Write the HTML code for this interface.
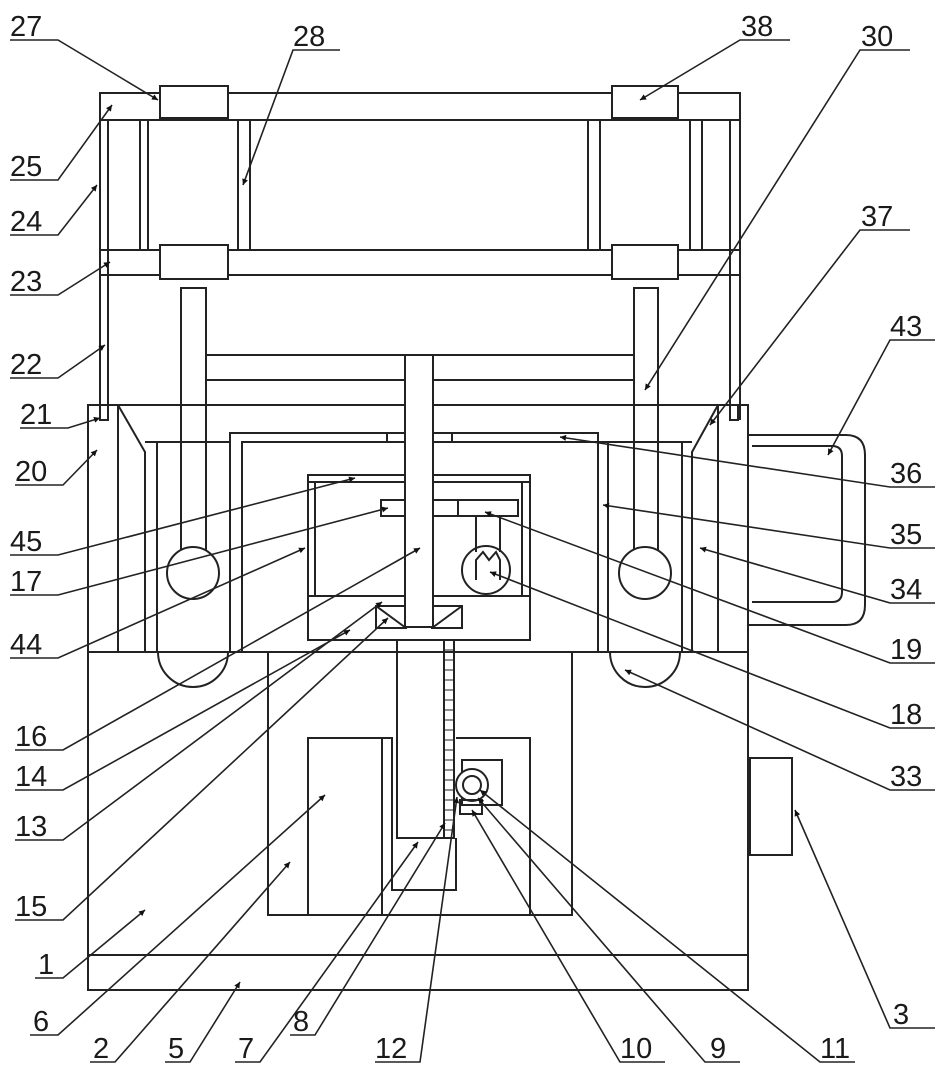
<!DOCTYPE html>
<html><head><meta charset="utf-8"><style>
html,body{margin:0;padding:0;background:#fff}
svg{display:block}
text{font-family:"Liberation Sans",sans-serif;font-size:29px;fill:#1a1a1a}
</style></head><body>
<svg width="942" height="1073" viewBox="0 0 942 1073" xmlns="http://www.w3.org/2000/svg">
<defs><marker id="a" viewBox="0 0 10 10" refX="10" refY="5" markerWidth="9" markerHeight="6" orient="auto" markerUnits="userSpaceOnUse"><path d="M0,0L10,5L0,10z" fill="#111"/></marker></defs>
<g fill="none" stroke="#222" stroke-width="2">
<!-- top frame -->
<rect x="100" y="93" width="640" height="27"/>
<rect x="160" y="86" width="68" height="32" fill="#fff"/>
<rect x="612" y="86" width="66" height="32" fill="#fff"/>
<line x1="100" y1="120" x2="100" y2="420"/><line x1="108" y1="120" x2="108" y2="420"/>
<line x1="140" y1="120" x2="140" y2="250"/><line x1="148" y1="120" x2="148" y2="250"/>
<line x1="238" y1="120" x2="238" y2="250"/><line x1="250" y1="120" x2="250" y2="250"/>
<line x1="588" y1="120" x2="588" y2="250"/><line x1="600" y1="120" x2="600" y2="250"/>
<line x1="690" y1="120" x2="690" y2="250"/><line x1="702" y1="120" x2="702" y2="250"/>
<line x1="730" y1="120" x2="730" y2="420"/><line x1="740" y1="120" x2="740" y2="420"/>
<rect x="100" y="250" width="640" height="25"/>
<rect x="160" y="245" width="68" height="34" fill="#fff"/>
<rect x="612" y="245" width="66" height="34" fill="#fff"/>
<rect x="100" y="405" width="8" height="15"/><rect x="730" y="405" width="8" height="15"/>
<!-- rods -->
<rect x="181" y="288" width="25" height="262"/>
<rect x="634" y="288" width="24" height="262"/>
<line x1="207" y1="355" x2="633" y2="355"/><line x1="207" y1="380" x2="633" y2="380"/>
<!-- upper body -->
<rect x="88" y="405" width="660" height="247"/>
<line x1="118" y1="405" x2="118" y2="652"/>
<polyline points="118,405 145,452 145,652"/>
<line x1="157" y1="442" x2="157" y2="652"/>
<line x1="145" y1="442" x2="230" y2="442"/>
<polyline points="718,405 692,452 692,652"/>
<line x1="718" y1="405" x2="718" y2="652"/>
<line x1="682" y1="442" x2="682" y2="652"/>
<line x1="608" y1="442" x2="692" y2="442"/>
<polyline points="230,652 230,433 598,433 598,652"/>
<polyline points="242,652 242,442 608,442 608,652"/>
<line x1="387" y1="433" x2="387" y2="442"/><line x1="452" y1="433" x2="452" y2="442"/>
<!-- inner box -->
<rect x="308" y="475" width="222" height="165"/>
<line x1="308" y1="482" x2="530" y2="482"/>
<line x1="315" y1="482" x2="315" y2="596"/><line x1="522" y1="482" x2="522" y2="596"/>
<line x1="308" y1="596" x2="405" y2="596"/><line x1="432" y1="596" x2="530" y2="596"/>
<rect x="381" y="500" width="137" height="16"/><line x1="458" y1="500" x2="458" y2="516"/>
<line x1="476" y1="516" x2="476" y2="552"/><line x1="500" y1="516" x2="500" y2="552"/>
<circle cx="486" cy="570" r="24"/>
<polyline points="476,580 476,560 483,552 489,560 496,552 500,560 500,580"/>
<circle cx="193" cy="573" r="26" fill="#fff"/>
<circle cx="645" cy="573" r="26" fill="#fff"/>
<rect x="376" y="606" width="30" height="22"/><line x1="376" y1="606" x2="406" y2="628"/>
<rect x="432" y="606" width="30" height="22"/><line x1="462" y1="606" x2="432" y2="628"/>
<rect x="405" y="355" width="28" height="272" fill="#fff"/>
<!-- base -->
<rect x="88" y="652" width="660" height="338"/>
<line x1="88" y1="955" x2="748" y2="955"/>
<path d="M158,652 A35,35 0 0 0 228,652"/>
<path d="M610,652 A35,35 0 0 0 680,652"/>
<rect x="268" y="652" width="304" height="263"/>
<rect x="308" y="738" width="74" height="177"/>
<polyline points="382,738 392,738 392,890 456,890 456,838"/>
<polyline points="456,738 530,738 530,915"/>
<rect x="397" y="640" width="47" height="198"/>
<rect x="444" y="640" width="10" height="198"/>
<g stroke-width="1"><path d="M444,650H454M444,660H454M444,670H454M444,680H454M444,690H454M444,700H454M444,710H454M444,720H454M444,730H454M444,740H454M444,750H454M444,760H454M444,770H454M444,780H454M444,790H454M444,800H454M444,810H454M444,820H454M444,830H454"/></g>
<rect x="462" y="760" width="40" height="45"/>
<circle cx="472" cy="785" r="16" fill="#fff"/><circle cx="472" cy="785" r="9"/>
<rect x="460" y="800" width="22" height="14"/>
<rect x="750" y="758" width="42" height="97"/>
<!-- box 43 -->
<path d="M748,435H846Q865,435 865,455V605Q865,625 846,625H748"/>
<path d="M752,446H832Q842,446 842,456V592Q842,602 832,602H752"/>
</g>
<!-- leaders -->
<g stroke="#222" stroke-width="1.6" fill="none" marker-end="url(#a)">
<path d="M10,40H58L158,100"/><path d="M340,50H293L243,185"/><path d="M790,40H740L640,100"/>
<path d="M910,50H860L645,390"/><path d="M910,230H860L710,425"/><path d="M935,340H890L828,455"/>
<path d="M10,180H58L112,105"/><path d="M10,235H58L97,185"/><path d="M10,295H58L110,262"/>
<path d="M10,378H58L105,345"/><path d="M20,428H68L100,418"/><path d="M15,485H63L97,450"/>
<path d="M935,487H890L560,437"/><path d="M935,548H890L603,505"/><path d="M935,603H890L700,548"/>
<path d="M935,663H890L485,512"/><path d="M935,728H890L490,572"/><path d="M935,790H890L625,670"/>
<path d="M935,1028H890L795,810"/>
<path d="M10,555H58L355,478"/><path d="M10,595H58L388,508"/><path d="M10,658H58L305,548"/>
<path d="M15,750H63L420,548"/><path d="M15,790H63L350,630"/><path d="M15,840H63L382,602"/>
<path d="M15,920H63L388,618"/><path d="M35,978H63L145,910"/><path d="M30,1035H58L325,795"/>
<path d="M90,1062H115L290,862"/><path d="M165,1062H190L240,982"/><path d="M235,1062H260L418,842"/>
<path d="M290,1035H315L445,823"/><path d="M375,1062H420L457,797"/><path d="M665,1062H620L472,810"/>
<path d="M740,1062H705L478,798"/><path d="M855,1062H820L480,790"/>
</g>
<text x="10" y="36">27</text><text x="293" y="46">28</text><text x="741" y="36">38</text>
<text x="861" y="46">30</text><text x="861" y="226">37</text><text x="890" y="336">43</text>
<text x="10" y="176">25</text><text x="10" y="231">24</text><text x="10" y="291">23</text>
<text x="10" y="374">22</text><text x="20" y="424">21</text><text x="15" y="481">20</text>
<text x="890" y="483">36</text><text x="890" y="544">35</text><text x="890" y="599">34</text>
<text x="890" y="659">19</text><text x="890" y="724">18</text><text x="890" y="786">33</text>
<text x="893" y="1024">3</text>
<text x="10" y="551">45</text><text x="10" y="591">17</text><text x="10" y="654">44</text>
<text x="15" y="746">16</text><text x="15" y="786">14</text><text x="15" y="836">13</text>
<text x="15" y="916">15</text><text x="38" y="974">1</text><text x="33" y="1031">6</text>
<text x="93" y="1058">2</text><text x="168" y="1058">5</text><text x="238" y="1058">7</text>
<text x="293" y="1031">8</text><text x="375" y="1058">12</text><text x="620" y="1058">10</text>
<text x="710" y="1058">9</text><text x="820" y="1058">11</text>
</svg>
</body></html>
